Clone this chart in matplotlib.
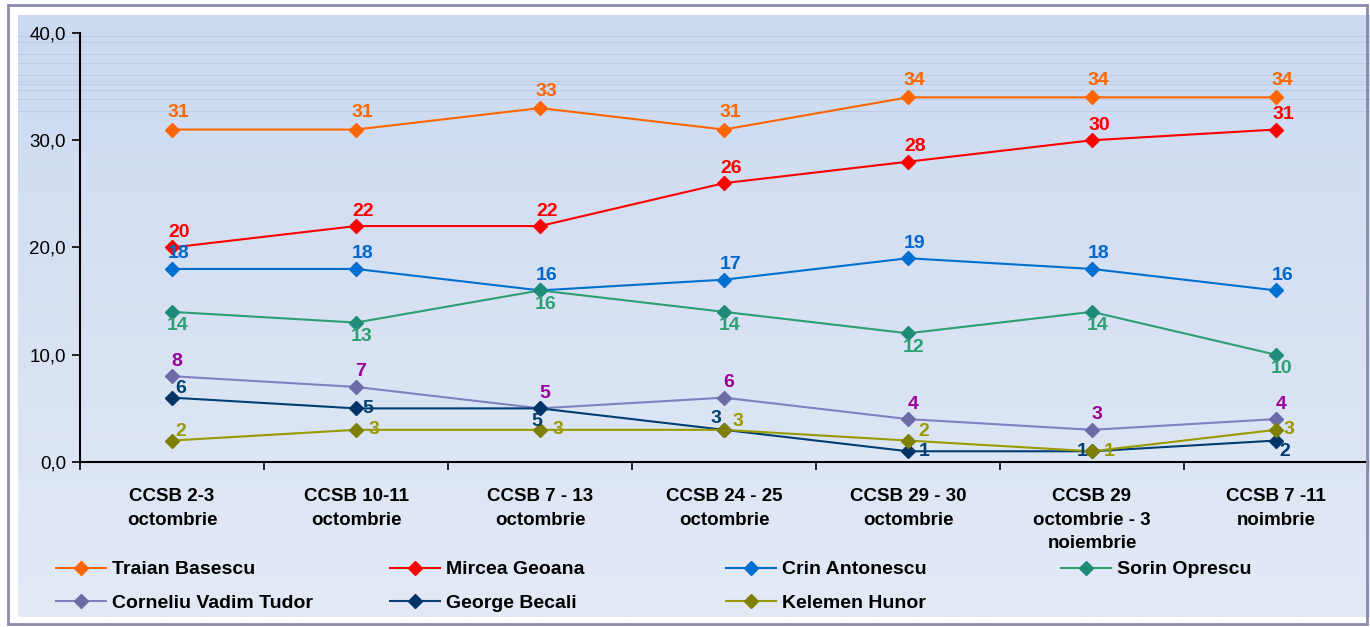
import numpy as np
import matplotlib
matplotlib.use("Agg")
import matplotlib.pyplot as plt
from matplotlib.lines import Line2D
from matplotlib.patches import Rectangle

plt.rcParams['font.family'] = ['Liberation Sans', 'DejaVu Sans']

categories = ["CCSB 2-3\noctombrie", "CCSB 10-11\noctombrie", "CCSB 7 - 13\noctombrie",
              "CCSB 24 - 25\noctombrie", "CCSB 29 - 30\noctombrie",
              "CCSB 29\noctombrie - 3\nnoiembrie", "CCSB 7 -11\nnoimbrie"]

traian = [31, 31, 33, 31, 34, 34, 34]
mircea = [20, 22, 22, 26, 28, 30, 31]
crin = [18, 18, 16, 17, 19, 18, 16]
sorin = [14, 13, 16, 14, 12, 14, 10]
vadim = [8, 7, 5, 6, 4, 3, 4]
becali = [6, 5, 5, 3, 1, 1, 2]
kelemen = [2, 3, 3, 3, 2, 1, 3]

names = ["Traian Basescu", "Mircea Geoana", "Crin Antonescu", "Sorin Oprescu",
         "Corneliu Vadim Tudor", "George Becali", "Kelemen Hunor"]
series = [traian, mircea, crin, sorin, vadim, becali, kelemen]

# styles: line colour, marker colour, label colour
line_colors = ["#FF6600", "#FF0000", "#0070D0", "#2E9E73", "#8080C0", "#003E73", "#999900"]
marker_colors = ["#FF6600", "#FF0000", "#0070D0", "#1F8C78", "#6B6BA6", "#003366", "#808000"]
label_colors = ["#FF6600", "#FF0000", "#0066CC", "#2E9E73", "#990099", "#003E73", "#999900"]

# label offsets in pixels (dx, dy)
offsets = [
    [(6, 17)] * 7,
    [(7, 15)] * 7,
    [(7, 15)] * 7,
    [(6, -14)] * 7,
    [(5, 15)] * 7,
    [(9, 9), (12, 0), (-3, -13), (-8, 11), (16, 0), (-10, 0), (9, -11)],
    [(9, 9), (18, 0), (18, 0), (14, 8), (16, 9), (17, 0), (13, 0)],
]

W, H = 1370, 627
fig = plt.figure(figsize=(W / 100, H / 100), dpi=100)
fig.patch.set_facecolor("white")

# gradient background
bg = fig.add_axes([18 / W, 1 - 617 / H, 1 - 18 / W, (617 - 15) / H])
bg.set_axis_off()
top = np.array([204, 217, 240]) / 255
bottom = np.array([227, 234, 246]) / 255
t = np.linspace(0, 1, 256)[:, None]
grad = top * (1 - t) + bottom * t
bg.imshow(grad[:, None, :].repeat(2, axis=1), aspect="auto", extent=[0, 1, 0, 1], zorder=0)
for yy in [0.965, 0.955, 0.935, 0.92, 0.9, 0.89, 0.885, 0.875, 0.86, 0.84]:
    bg.axhline(yy, color="#B4C6E8", lw=0.8, alpha=0.7)
bg.set_xlim(0, 1)
bg.set_ylim(0, 1)

# outer border
fig.add_artist(Rectangle((8 / W, 1 - 624 / H), (1367 - 8) / W, (624 - 5) / H,
                         transform=fig.transFigure, fill=False, ec="#8A8AB0", lw=2, zorder=5))

ax = fig.add_axes([80 / W, 1 - 462 / H, (1368 - 80) / W, (462 - 33) / H])
ax.set_facecolor("none")
x = np.arange(len(categories))

for s, name, lc, mc, tc, offs in zip(series, names, line_colors, marker_colors, label_colors, offsets):
    ax.plot(x, s, color=lc, lw=1.5, marker="D", ms=7.5, mfc=mc, mec=mc, label=name, zorder=3,
            clip_on=False)
    for xi, v, (dx, dy) in zip(x, s, offs):
        ax.annotate(str(v), (xi, v), xytext=(dx, dy), textcoords="offset pixels",
                    ha="center", va="center", color=tc, fontsize=14, fontweight="bold",
                    zorder=4)

ax.set_xlim(-0.5, len(categories) - 0.5)
ax.set_ylim(0, 40)
ax.set_yticks([0, 10, 20, 30, 40])
ax.set_yticklabels([f"{v:.1f}".replace(".", ",") for v in [0, 10, 20, 30, 40]], fontsize=13.5)
ax.set_xticks(np.arange(-0.5, len(categories)), minor=False)
ax.set_xticklabels([])
ax.set_xticks(x, minor=True)
ax.set_xticklabels(categories, minor=True, fontsize=13.5, fontweight="bold", va="top",
                   linespacing=1.5)
ax.tick_params(axis="x", which="minor", length=0, pad=19)
ax.tick_params(axis="x", which="major", length=6, direction="out", width=1.2)
ax.tick_params(axis="y", length=6, direction="out", width=1.2, pad=4)
for sp in ["top", "right"]:
    ax.spines[sp].set_visible(False)
for sp in ["left", "bottom"]:
    ax.spines[sp].set_linewidth(1.5)

# legend in 4 columns
handles = [Line2D([0], [0], color=lc, lw=1.5, marker="D", ms=7.5, mfc=mc, mec=mc)
           for lc, mc in zip(line_colors, marker_colors)]
cols = [[0, 4], [1, 5], [2, 6], [3]]
col_x = [46, 380, 716, 1051]
for cidx, cx in zip(cols, col_x):
    fig.legend([handles[i] for i in cidx], [names[i] for i in cidx],
               loc="upper left", bbox_to_anchor=(cx / W, 1 - 551 / H),
               frameon=False, prop={"weight": "bold", "size": 14},
               handlelength=2.6, handletextpad=0.3, labelspacing=0.8, borderpad=0)

fig.savefig("out.png", dpi=100)
